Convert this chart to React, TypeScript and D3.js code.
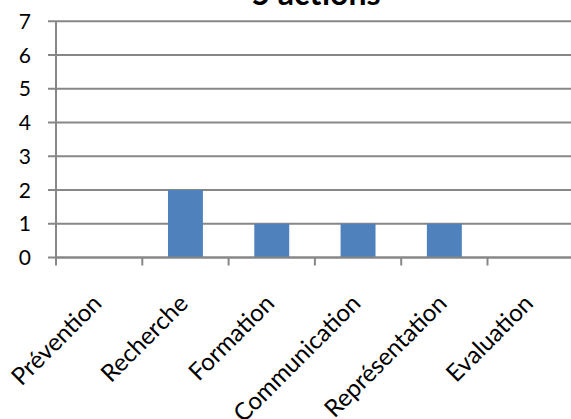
import React from "react";
import * as d3 from "d3";

const categories = ["Prévention", "Recherche", "Formation", "Communication", "Représentation", "Evaluation"];
const values = [0, 2, 1, 1, 1, 0];
const yTicks = [0, 1, 2, 3, 4, 5, 6, 7];
const title = "5 actions";

const W = 571;
const H = 419;

export default function App() {
  const left = 56;
  const step = 86.3;
  const x = d3.scaleBand<string>().domain(categories).range([left, left + step * categories.length]).padding(0);
  const y = d3.scaleLinear().domain([0, 7]).range([257.5, 21.2]);
  const bw = x.bandwidth() / 2.47;
  const grid = "#878787";
  const font = "Lato, 'Noto Sans', sans-serif";
  return (
    <svg width={W} height={H} style={{ position: "absolute", left: 0, top: 0, background: "#fff" }}>
      <text x={316} y={5} textAnchor="middle" fontFamily={font} fontWeight="bold" fontSize={32} fill="#000">{title}</text>
      {yTicks.map((t) => (
        <g key={t}>
          <line x1={48} x2={W} y1={y(t)} y2={y(t)} stroke={grid} strokeWidth={2} />
          <text x={31} y={y(t)} dy="0.36em" textAnchor="end" fontFamily={font} fontSize={21} fill="#000">{t}</text>
        </g>
      ))}
      <line x1={left} x2={left} y1={y(7)} y2={y(0)} stroke={grid} strokeWidth={2} />
      {categories.map((c, i) => (
        <line key={"t" + i} x1={x(c)!} x2={x(c)!} y1={y(0)} y2={y(0) + 8} stroke={grid} strokeWidth={2} />
      ))}
      {categories.map((c, i) => (
        <rect key={"b" + i} x={x(c)! + x.bandwidth() / 2 - bw / 2} y={y(values[i])} width={bw} height={y(0) - y(values[i])} fill="#4F81BD" />
      ))}
      <line x1={left} x2={W} y1={y(0)} y2={y(0)} stroke={grid} strokeWidth={2} />
      {categories.map((c, i) => {
        const cx = x(c)! + x.bandwidth() / 2 + 4;
        const cy = 305;
        return (
          <text key={"l" + i} x={cx} y={cy} transform={`rotate(-45 ${cx} ${cy})`} textAnchor="end" fontFamily={font} fontSize={24.2} fill="#000">{c}</text>
        );
      })}
    </svg>
  );
}
